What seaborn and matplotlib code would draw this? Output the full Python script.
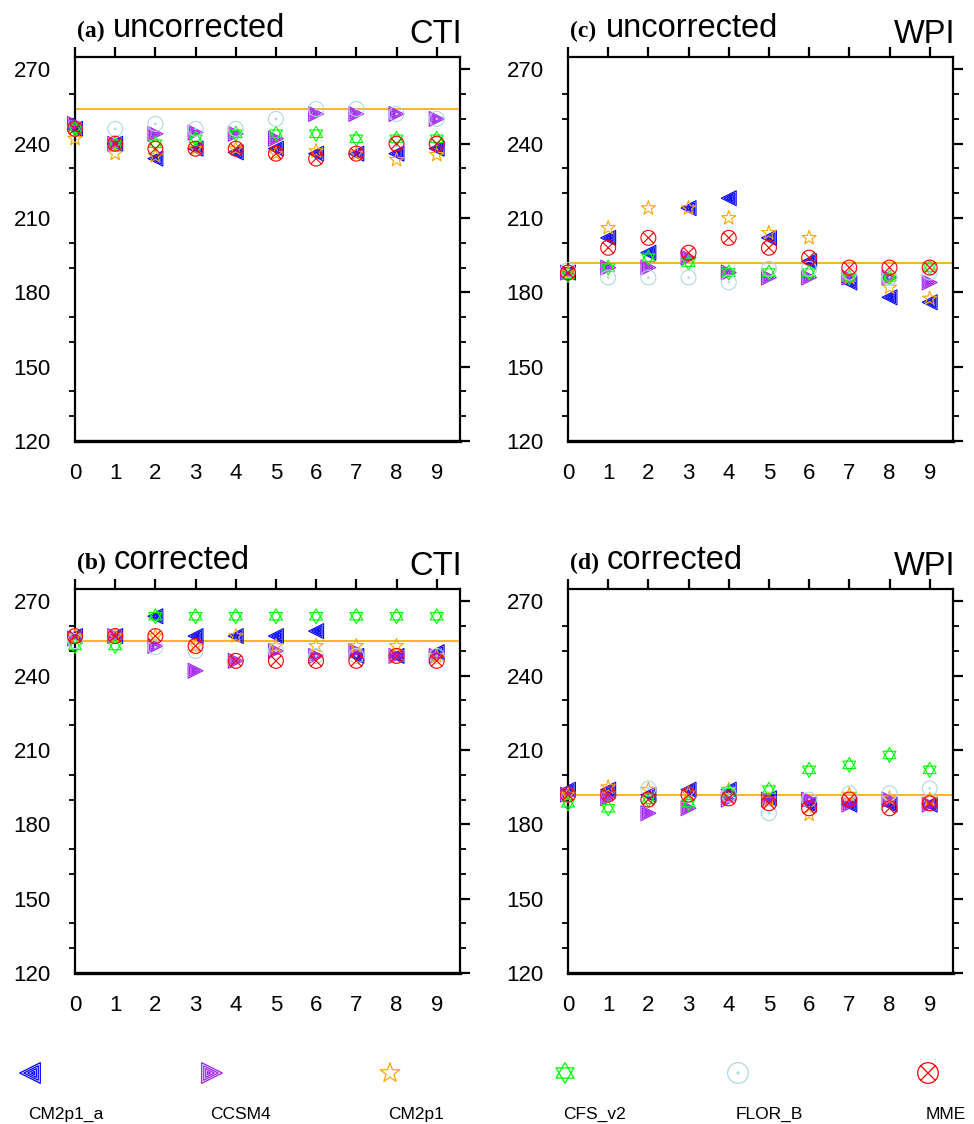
import numpy as np
import pandas as pd
import matplotlib
matplotlib.use("Agg")
import matplotlib.pyplot as plt
import seaborn as sns
from matplotlib.path import Path
from matplotlib.ticker import MultipleLocator

sns.set_style("white")
plt.rcParams["font.family"] = ["Liberation Sans", "DejaVu Sans"]
plt.rcParams["text.color"] = "black"
plt.rcParams["xtick.color"] = "black"
plt.rcParams["ytick.color"] = "black"

# lead (x axis) and models
leads = list(range(10))
models = ["CM2p1_a", "CCSM4", "CM2p1", "CFS_v2", "FLOR_B", "MME"]
colors = ["#0000ff", "#a020f0", "#ffa500", "#00ff00", "#add8e6", "#ff0000"]

# (a) CTI, uncorrected
cti_unc = {
    "CM2p1_a": [246, 240, 234, 238, 236.5, 238, 236, 236, 236, 238],
    "CCSM4":   [248, 240, 244, 244.5, 244, 242, 252, 252, 252, 250],
    "CM2p1":   [242, 236, 235, 238, 238, 236, 237, 236, 233.5, 235.5],
    "CFS_v2":  [246, 240, 240, 242, 244, 244, 244, 242, 242, 242],
    "FLOR_B":  [246, 246, 248, 246, 246, 250, 254, 254, 252, 250],
    "MME":     [246, 240, 238, 238, 238, 236, 234, 236, 240, 240],
}
# (b) CTI, corrected
cti_cor = {
    "CM2p1_a": [256, 256, 264, 256, 256, 256, 258, 248, 248, 249.5],
    "CCSM4":   [255, 256, 252, 242, 246, 250, 248, 250, 248, 248],
    "CM2p1":   [256, 256, 256, 252, 256, 252, 252, 252, 252, 248],
    "CFS_v2":  [252, 252, 264, 264, 264, 264, 264, 264, 264, 264],
    "FLOR_B":  [254, 256, 251.5, 250, 246, 250, 248, 248, 248, 248],
    "MME":     [256, 256, 256, 252, 246, 246, 246, 246, 248, 246],
}
# (c) WPI, uncorrected
wpi_unc = {
    "CM2p1_a": [188, 202, 196, 214, 218, 202, 192.5, 184, 178, 176],
    "CCSM4":   [188, 190, 190, 194, 188, 186, 186, 186, 186, 184],
    "CM2p1":   [188, 206, 214, 214, 210, 204, 202, 186, 182, 177.5],
    "CFS_v2":  [187, 190, 194, 192, 188, 188, 188, 186, 186, 190],
    "FLOR_B":  [189, 186, 186, 186, 184, 189.5, 189.5, 188, 186, 188],
    "MME":     [188, 198, 202, 196, 202, 198, 194, 190, 190, 190],
}
# (d) WPI, corrected
wpi_cor = {
    "CM2p1_a": [194, 194, 192, 194, 194, 190.5, 188, 188, 188, 188],
    "CCSM4":   [192, 190.5, 184.5, 186.5, 190, 190, 190, 188, 190, 188],
    "CM2p1":   [192, 195, 194, 192.5, 194, 190, 184, 192, 190.5, 190],
    "CFS_v2":  [188.5, 186.5, 190, 188.5, 193, 194, 202, 204, 208, 202],
    "FLOR_B":  [192, 192, 194.5, 192, 192, 184.5, 190, 192.5, 192.5, 194.5],
    "MME":     [192, 192, 190, 192, 190.5, 188.5, 186.5, 190, 186.5, 188.5],
}
ref_cti = 254
ref_wpi = 192


# ---- marker shapes (NCL-like, line art) ----
def nested_triangle(left=True):
    base = np.array([[-1.0, 0.0], [1.0, 1.0], [1.0, -1.0], [-1.0, 0.0]])
    if not left:
        base[:, 0] *= -1
    c = base[:3].mean(axis=0)
    verts, codes = [], []
    for k in (1.0, 0.7, 0.42, 0.15):
        tri = c + k * (base - c)
        verts += tri.tolist()
        codes += [Path.MOVETO, Path.LINETO, Path.LINETO, Path.CLOSEPOLY]
    return Path(verts, codes)


def star5():
    ang = np.pi / 2 + np.arange(10) * np.pi / 5
    r = np.where(np.arange(10) % 2 == 0, 1.0, 0.4)
    pts = np.c_[r * np.cos(ang), r * np.sin(ang)]
    verts = pts.tolist() + [pts[0].tolist()]
    codes = [Path.MOVETO] + [Path.LINETO] * 9 + [Path.CLOSEPOLY]
    return Path(verts, codes)


def hexagram():
    verts, codes = [], []
    for off in (np.pi / 2, -np.pi / 2):
        ang = off + np.arange(3) * 2 * np.pi / 3
        pts = np.c_[np.cos(ang), np.sin(ang)]
        verts += pts.tolist() + [pts[0].tolist()]
        codes += [Path.MOVETO, Path.LINETO, Path.LINETO, Path.CLOSEPOLY]
    return Path(verts, codes)


def circle_dot():
    c = Path.unit_circle()
    d = Path(c.vertices * 0.1, c.codes)
    return Path.make_compound_path(c, d)


def circle_x():
    c = Path.unit_circle()
    a = 0.707
    x = Path([[-a, -a], [a, a], [-a, a], [a, -a]],
             [Path.MOVETO, Path.LINETO, Path.MOVETO, Path.LINETO])
    return Path.make_compound_path(c, x)


markers = [nested_triangle(True), nested_triangle(False), star5(),
           hexagram(), circle_dot(), circle_x()]


def to_long(d):
    rows = []
    for m in models:
        for lead, v in zip(leads, d[m]):
            rows.append({"lead": lead, "value": v, "model": m})
    return pd.DataFrame(rows)


panels = [
    ("(a)", "uncorrected", "CTI", cti_unc, ref_cti),
    ("(b)", "corrected", "CTI", cti_cor, ref_cti),
    ("(c)", "uncorrected", "WPI", wpi_unc, ref_wpi),
    ("(d)", "corrected", "WPI", wpi_cor, ref_wpi),
]

fig = plt.figure(figsize=(9.74, 11.24), dpi=100)
W, H = 974, 1124
pos = {
    "(a)": (75, 57), "(c)": (568, 57),
    "(b)": (75, 589), "(d)": (568, 589),
}
aw, ah = 385, 384

for tag, state, region, data, ref in panels:
    x0, y0 = pos[tag]
    ax = fig.add_axes([x0 / W, 1 - (y0 + ah) / H, aw / W, ah / H])
    df = to_long(data)
    ax.axhline(ref, color="orange", lw=1.2, zorder=1)
    for m, c, mk in zip(models, colors, markers):
        sub = df[df["model"] == m]
        sns.scatterplot(data=sub, x="lead", y="value", ax=ax, marker=mk,
                        s=115, color=c, facecolor="none", edgecolor=c,
                        linewidth=0.8, clip_on=False, zorder=3, legend=False)
    ax.set_xlim(0, 9.58)
    ax.set_ylim(120, 275)
    ax.set_xticks(leads)
    ax.set_yticks([120, 150, 180, 210, 240, 270])
    ax.yaxis.set_minor_locator(MultipleLocator(10))
    ax.set_xlabel("")
    ax.set_ylabel("")
    ax.tick_params(axis="both", which="major", direction="out", length=7.5,
                   width=1.6, labelsize=16, top=True, right=True,
                   labeltop=False, labelright=False, labelcolor="black")
    ax.tick_params(axis="y", which="major", pad=10)
    ax.tick_params(axis="x", which="major", pad=8)
    ax.tick_params(axis="y", which="minor", direction="out", length=4,
                   width=1.3, left=True, right=True)
    for sp in ax.spines.values():
        sp.set_linewidth(1.6)
        sp.set_color("black")
    ax.spines["bottom"].set_linewidth(2.4)

    ax.annotate(tag, xy=(0, 1), xycoords="axes fraction", xytext=(1.5, 14.5),
                textcoords="offset points", ha="left", va="baseline",
                fontsize=17, fontweight="bold", family="Liberation Serif")
    ax.annotate(state, xy=(0, 1), xycoords="axes fraction", xytext=(27.5, 14.5),
                textcoords="offset points", ha="left", va="baseline",
                fontsize=23.5)
    ax.annotate(region, xy=(1, 1), xycoords="axes fraction", xytext=(1.5, 10),
                textcoords="offset points", ha="right", va="baseline",
                fontsize=23.5)

# legend row: markers above labels
leg_x = [30, 212, 390, 565, 738, 928]
lax = fig.add_axes([0, 0, 1, 1], facecolor="none")
lax.set_xlim(0, W)
lax.set_ylim(H, 0)
lax.axis("off")
for m, c, mk, lx in zip(models, colors, markers, leg_x):
    lax.scatter([lx], [1073], marker=mk, s=220, facecolor="none",
                edgecolor=c, linewidth=0.9)
    lax.text(lx - 2, 1119, m, ha="left", va="baseline", fontsize=12.5)

fig.savefig("out.png", dpi=100)
